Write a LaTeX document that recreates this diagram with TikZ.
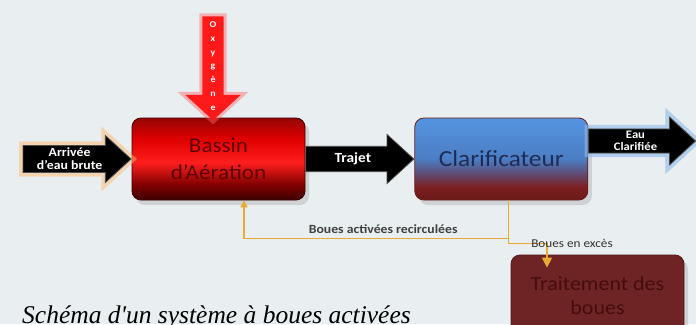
\documentclass[tikz,border=0pt]{standalone}
\usepackage{fontspec}
\setmainfont[FakeStretch=1.1]{Carlito}
\newfontfamily\capfont{Liberation Serif}
\usetikzlibrary{positioning,shapes.arrows,shadows,arrows.meta}

\definecolor{bgcol}{RGB}{233,238,241}
\definecolor{flowcol}{RGB}{232,170,50}
\definecolor{bassintxt}{RGB}{95,0,0}
\definecolor{clartxt}{RGB}{30,45,85}
\definecolor{traitfill}{RGB}{110,36,36}
\definecolor{traittxt}{RGB}{70,12,12}
\definecolor{oxyred}{RGB}{255,25,25}
\definecolor{eauglow}{RGB}{140,185,235}
\definecolor{bA}{RGB}{60,0,0}
\definecolor{bB}{RGB}{125,0,0}
\definecolor{bC}{RGB}{255,30,30}
\definecolor{bD}{RGB}{225,0,0}
\definecolor{bE}{RGB}{150,5,5}
\definecolor{cA}{RGB}{105,25,25}
\definecolor{cB}{RGB}{125,32,32}
\definecolor{cC}{RGB}{95,75,115}
\definecolor{cD}{RGB}{75,125,195}
\definecolor{cE}{RGB}{85,148,225}

\pgfdeclareverticalshading{bassinshade}{100bp}{color(0bp)=(bA); color(25bp)=(bA); color(34bp)=(bB); color(48bp)=(bC); color(62bp)=(bD); color(75bp)=(bE); color(100bp)=(bE)}
\pgfdeclareverticalshading{clarshade}{100bp}{color(0bp)=(cA); color(25bp)=(cA); color(33bp)=(cB); color(41bp)=(cC); color(50bp)=(cD); color(75bp)=(cE); color(100bp)=(cE)}

\tikzset{
  box/.style={rounded corners=9pt, minimum width=173pt, minimum height=82pt, align=center, line width=0.8pt,
    drop shadow={opacity=0.25, shadow xshift=4pt, shadow yshift=-5pt}},
  fatarrow/.style={single arrow, fill=black, draw=gray!60!black, line width=0.8pt, text=white, align=center,
    font=\bfseries\fontsize{12.5}{13}\selectfont, inner sep=1pt, single arrow head indent=0pt, single arrow tip angle=85},
  flow/.style={draw=flowcol, line width=1.5pt},
  lbl/.style={text=black!75, font=\bfseries\fontsize{12.5}{14}\selectfont, inner sep=1pt}
}

\begin{document}
\begin{tikzpicture}[x=1pt,y=-1pt]
\useasboundingbox (0,0) rectangle (696,324);
\clip (0,0) rectangle (696,324);
\fill[bgcol] (0,0) rectangle (696,324);

% bassins
\node[box, draw=bA, shading=bassinshade, text=bassintxt, font=\fontsize{21}{27}\selectfont] (bassin) at (218.5,159) {Bassin\\d'Aération};
\node[fatarrow, left=0pt of bassin, minimum height=108pt, minimum width=47pt, single arrow head extend=9pt,
  preaction={draw=orange!55, line width=8pt, opacity=0.5}] (arrivee) {Arrivée\\d'eau brute};
\node[fatarrow, right=0pt of bassin, minimum height=108pt, minimum width=49pt, single arrow head extend=7pt, font=\bfseries\fontsize{14}{15}\selectfont] (trajet) {Trajet};
\node[box, draw=cA, shading=clarshade, text=clartxt, font=\fontsize{23}{27}\selectfont, right=0pt of trajet] (clar) {Clarificateur};
\node[fatarrow, right=0pt of clar, yshift=18pt, minimum height=107pt, minimum width=48pt, single arrow head extend=11pt,
  font=\bfseries\fontsize{11.5}{12}\selectfont, preaction={draw=eauglow, line width=8pt, opacity=0.6}] (eau) {Eau\\Clarifiée};
\node[box, draw=traitfill!70!black, fill=traitfill, text=traittxt, font=\fontsize{20}{24}\selectfont] (trait) at (597.5,296) {Traitement des\\boues};

% oxygene
\node[single arrow, rotate=-90, fill=oxyred, minimum height=104pt, minimum width=55pt, text width=0pt,
  inner xsep=0pt, inner ysep=10.5pt,
  single arrow head extend=17pt, single arrow head indent=0pt, single arrow tip angle=95,
  preaction={draw=red!60, line width=6pt, opacity=0.45}, anchor=tip] (oxy) at ([xshift=-5.5pt,yshift=-3pt]bassin.north) {};
\node[text=white, align=center, font=\bfseries\fontsize{9}{13.7}\selectfont, inner sep=0pt] (oxytxt) at (213,66) {O\\x\\y\\g\\è\\n\\e};

% boues
\draw[flow, -{Triangle[width=7pt,length=7pt]}] ([xshift=7pt]clar.south) -- ++(0,38) -| ([xshift=25.5pt]bassin.south)
  node[lbl, pos=0.25, above=3pt, xshift=7pt] (recirc) {Boues activées recirculées};
\draw[flow, -{Triangle[width=10pt,length=10pt]}] ([xshift=7pt]clar.south) -- ++(0,43) -| ([xshift=-50.5pt,yshift=-13pt]trait.north);
\node[lbl, font=\fontsize{12}{13}\selectfont, text=black!80] (exces) at (572,243) {Boues en excès};

\node[font=\capfont\itshape\fontsize{25.5}{28}\selectfont, anchor=base west, inner sep=0pt] (caption) at (22,323.5) {Schéma d'un système à boues activées};
\end{tikzpicture}
\end{document}
